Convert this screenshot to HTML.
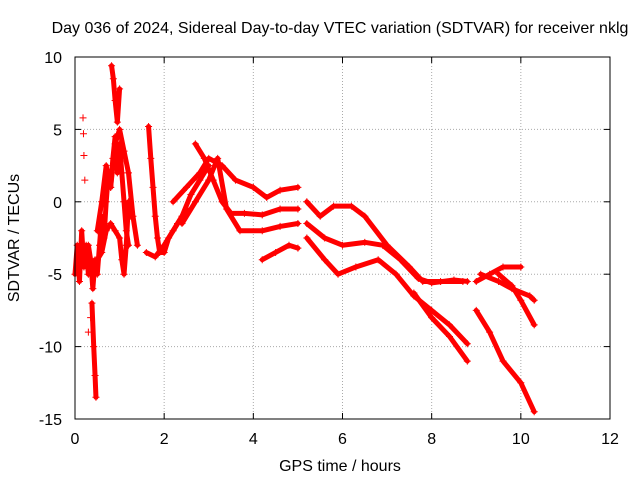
<!DOCTYPE html>
<html><head><meta charset="utf-8"><style>
body{margin:0;background:#fff}
svg text{font-family:"Liberation Sans",sans-serif;font-size:16px;fill:#000}
</style></head><body>
<svg id="chart" width="640" height="480" xmlns="http://www.w3.org/2000/svg">
<rect width="640" height="480" fill="#fff"/>
<text x="340" y="33" text-anchor="middle">Day 036 of 2024, Sidereal Day-to-day VTEC variation (SDTVAR) for receiver nklg</text>
<text x="340" y="471" text-anchor="middle">GPS time / hours</text>
<text transform="translate(19,238) rotate(-90)" text-anchor="middle">SDTVAR / TECUs</text>
<g id="grid"></g><g id="ticks"></g><g id="marks"></g>
<rect x="75" y="57" width="535" height="362" fill="none" stroke="#000"/>
</svg>
<script>
const xTicks=[0,2,4,6,8,10,12];
const yTicks=[10,5,0,-5,-10,-15];
const trackEarly=[[0,-5],[0.05,-3],[0.1,-5.5],[0.15,-2],[0.2,-4.5],[0.25,-3],[0.3,-5],[0.35,-4],[0.4,-6],[0.45,-4],[0.5,-5],[0.55,-3],[0.6,-1],[0.65,-2.5],[0.7,0],[0.75,2],[0.8,1],[0.85,3],[0.9,4.5],[0.95,2],[1.0,4],[1.05,2],[1.1,0],[1.15,-2],[1.2,-3]];
const trackEarly2=[[0.3,-3],[0.4,-5],[0.5,-4],[0.6,-3.5],[0.7,-2],[0.8,-1.5],[0.9,-2],[1.0,-2.5],[1.05,-4],[1.1,-5],[1.15,-3],[1.2,0],[1.25,-1]];
const trackEarly3=[[0.5,-2],[0.6,0],[0.7,2.5],[0.8,1],[0.9,4],[1.0,5],[1.1,3.5],[1.2,2],[1.3,-1],[1.4,-3]];
const spikeUp=[[0.82,9.4],[0.86,8.5],[0.9,7],[0.95,5.5],[1.0,7.8]];
const spikeDown=[[0.38,-7],[0.42,-10],[0.45,-12],[0.47,-13.5]];
const scatterLeft=[[0.18,5.8],[0.19,4.7],[0.2,3.2],[0.22,1.5],[0.3,-9],[0.35,-8]];
const trackB1=[[1.65,5.2],[1.7,3],[1.75,1],[1.8,-1],[1.85,-2.5],[1.9,-3.5],[2.0,-3.5],[2.1,-2.5],[2.3,-1.5],[2.5,-0.5]];
const trackB2=[[1.6,-3.5],[1.8,-3.8],[2.0,-3],[2.2,-2],[2.4,-1],[2.6,0.5],[2.8,1.5],[3.0,2.5]];
const trackA=[[2.2,0],[2.5,1],[2.8,2],[3.0,3],[3.3,2.5],[3.6,1.5],[4.0,1],[4.3,0.3],[4.6,0.8],[5.0,1]];
const trackA2=[[2.7,4],[2.9,3],[3.1,1.5],[3.3,0],[3.5,-0.8],[3.8,-0.8],[4.2,-0.9],[4.6,-0.5],[5.0,-0.5]];
const trackA3=[[2.4,-1.5],[2.7,0],[3.0,1.5],[3.2,3],[3.4,-0.5],[3.7,-2],[4.2,-2],[4.6,-1.7],[5.0,-1.5]];
const trackC=[[4.2,-4],[4.5,-3.5],[4.8,-3],[5.0,-3.2]];
const trackD=[[5.2,0],[5.5,-1],[5.8,-0.3],[6.2,-0.3],[6.5,-1],[7.0,-3],[7.5,-4.5],[7.8,-5.5],[8.2,-5.5],[8.7,-5.5]];
const trackE=[[5.2,-1.5],[5.6,-2.5],[6.0,-3],[6.5,-2.8],[6.9,-3],[7.3,-4],[7.7,-5.3],[8.0,-5.6],[8.5,-5.4],[8.8,-5.5]];
const trackF=[[5.2,-2.5],[5.6,-4],[5.9,-5],[6.3,-4.5],[6.8,-4],[7.2,-5],[7.6,-6.5],[8.0,-7.5],[8.4,-8.5],[8.8,-9.8]];
const trackG=[[7.6,-6.3],[8.0,-8],[8.4,-9.3],[8.8,-11]];
const trackH=[[9.0,-5.5],[9.3,-5],[9.6,-4.5],[10.0,-4.5]];
const trackI=[[9.1,-5],[9.5,-5.5],[9.8,-6],[10.2,-6.5],[10.3,-6.8]];
const trackJ=[[9.5,-5],[9.8,-5.8],[10.0,-6.8],[10.3,-8.5]];
const trackK=[[9.0,-7.5],[9.3,-9],[9.6,-11],[10.0,-12.5],[10.3,-14.5]];
const tracks=[trackEarly,trackEarly2,trackEarly3,spikeUp,spikeDown,trackB1,trackB2,trackA,trackA2,trackA3,trackC,trackD,trackE,trackF,trackG,trackH,trackI,trackJ,trackK];

const NS="http://www.w3.org/2000/svg";
const X=v=>75+(v-0)/12*535;
const Y=v=>419-(v+15)/25*362;
function mk(t,a){const e=document.createElementNS(NS,t);for(const k in a)e.setAttribute(k,a[k]);return e;}
const grid=document.getElementById('grid'),ticks=document.getElementById('ticks'),marks=document.getElementById('marks');
xTicks.forEach(t=>{
 if(t>0&&t<12){const g=mk('line',{x1:X(t),x2:X(t),y1:57,y2:419,stroke:'#aaa','stroke-dasharray':'1,2'});
 
 grid.appendChild(g);}
 const l=mk('text',{x:X(t),y:444,'text-anchor':'middle'});l.textContent=t;
 
 ticks.appendChild(l);
 ticks.appendChild(mk('line',{x1:X(t),x2:X(t),y1:419,y2:413,stroke:'#000'}));
 ticks.appendChild(mk('line',{x1:X(t),x2:X(t),y1:57,y2:63,stroke:'#000'}));
});
yTicks.forEach(t=>{
 if(t>-15&&t<10){const g=mk('line',{x1:75,x2:610,y1:Y(t),y2:Y(t),stroke:'#aaa','stroke-dasharray':'1,2'});
 
 grid.appendChild(g);}
 const l=mk('text',{x:62,y:Y(t)+6,'text-anchor':'end'});l.textContent=t;
 
 ticks.appendChild(l);
 ticks.appendChild(mk('line',{x1:75,x2:81,y1:Y(t),y2:Y(t),stroke:'#000'}));
 ticks.appendChild(mk('line',{x1:610,x2:604,y1:Y(t),y2:Y(t),stroke:'#000'}));
});
function plus(x,y,c){return mk('path',{d:`M${x-3.5},${y}h7M${x},${y-3.5}v7`,stroke:c,'stroke-width':1});}
tracks.forEach((tr,i)=>{
 const pl=mk('polyline',{points:tr.map(p=>X(p[0])+','+Y(p[1])).join(' '),fill:'none',stroke:'#f00','stroke-width':5,'stroke-linejoin':'round','stroke-linecap':'round'});
 
 
 marks.appendChild(pl);
 tr.forEach(p=>marks.appendChild(plus(X(p[0]),Y(p[1]),'#f00')));
});
scatterLeft.forEach(p=>{const m=plus(X(p[0]),Y(p[1]),'#f00');
 
 marks.appendChild(m);});
</script>
</body></html>
